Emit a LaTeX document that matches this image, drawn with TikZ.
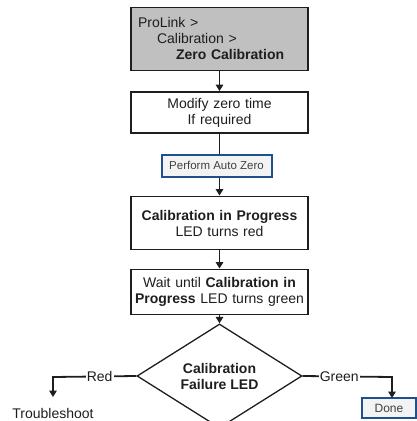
\documentclass[tikz,border=0pt]{standalone}
\usepackage{fontspec}
\setmainfont{Liberation Sans}
\usetikzlibrary{arrows.meta,shapes.geometric}
\definecolor{btnblue}{HTML}{1F4F8F}
\definecolor{btnfill}{HTML}{F3F3F3}
\definecolor{boxgray}{HTML}{C0C0C0}
\definecolor{ink}{HTML}{1E1E1E}
\begin{document}
\begin{tikzpicture}[x=1pt,y=-1pt,
  font=\fontsize{14}{16}\selectfont, text=ink,
  box/.style={draw=ink, line width=1.9pt, minimum width=177pt, text width=175pt,
    inner xsep=1pt, inner ysep=1pt, align=center},
  btn/.style={draw=btnblue, line width=2pt, fill=btnfill, inner sep=1pt,
    font=\fontsize{11.5}{13}\selectfont, text=black!75},
  dec/.style={diamond, draw=ink, line width=1.3pt, minimum width=165pt,
    minimum height=86pt, inner sep=0pt, align=center, font=\fontsize{14}{16}\selectfont\bfseries},
  ln/.style={draw=ink, line width=1.8pt},
  arr/.style={ln, -{Triangle[width=7.5pt,length=6.5pt]}},
  lbl/.style={fill=white, inner xsep=1pt, inner ysep=0pt}]
\useasboundingbox (0,0) rectangle (417,421);

\node[box, fill=boxgray, minimum height=63pt, align=left] (b1) at (219.5,39)
  {\hspace*{6pt}ProLink >\\\hspace*{25pt}Calibration >\\\hspace*{44pt}\textbf{Zero Calibration}\vspace*{2pt}};
\node[box, minimum height=41pt] (b2) at (219.5,112.5) {Modify zero time\\If required};
\node[btn, minimum width=110pt, minimum height=22pt] (paz) at (216.5,165.5) {Perform Auto Zero};
\node[box, minimum height=53pt] (b3) at (219.5,223) {\textbf{Calibration in Progress}\\LED turns red};
\node[box, minimum height=45pt] (b4) at (219.5,292) {Wait until \textbf{Calibration in}\\\textbf{Progress} LED turns green};
\node[dec] (dia) at (219.5,376) {Calibration\\Failure LED};
\node[inner sep=0pt] (trouble) at (53,413) {Troubleshoot};
\node[btn, minimum width=54pt, minimum height=20pt, font=\fontsize{12}{14}\selectfont] (done) at (389,408) {Done};

\coordinate (rc) at (53,377);
\coordinate (rend) at (53,397);
\coordinate (gc) at (392,377);
\coordinate (gend) at (392,398);

\draw[arr] (b1) -- (b2);
\draw[ln] (b2) -- (paz.north -| b2.south);
\draw[arr] (paz.south -| b2.north) -- (b3);
\draw[arr] (b3) -- (b4);
\draw[arr] (b4) -- (dia);
\draw[arr] (dia.west) -- node[lbl, pos=0.44] {Red} (rc) -- (rend);
\draw[arr] (dia.east) -- node[lbl, pos=0.41] {Green} (gc) -- (gend);
\end{tikzpicture}
\end{document}
